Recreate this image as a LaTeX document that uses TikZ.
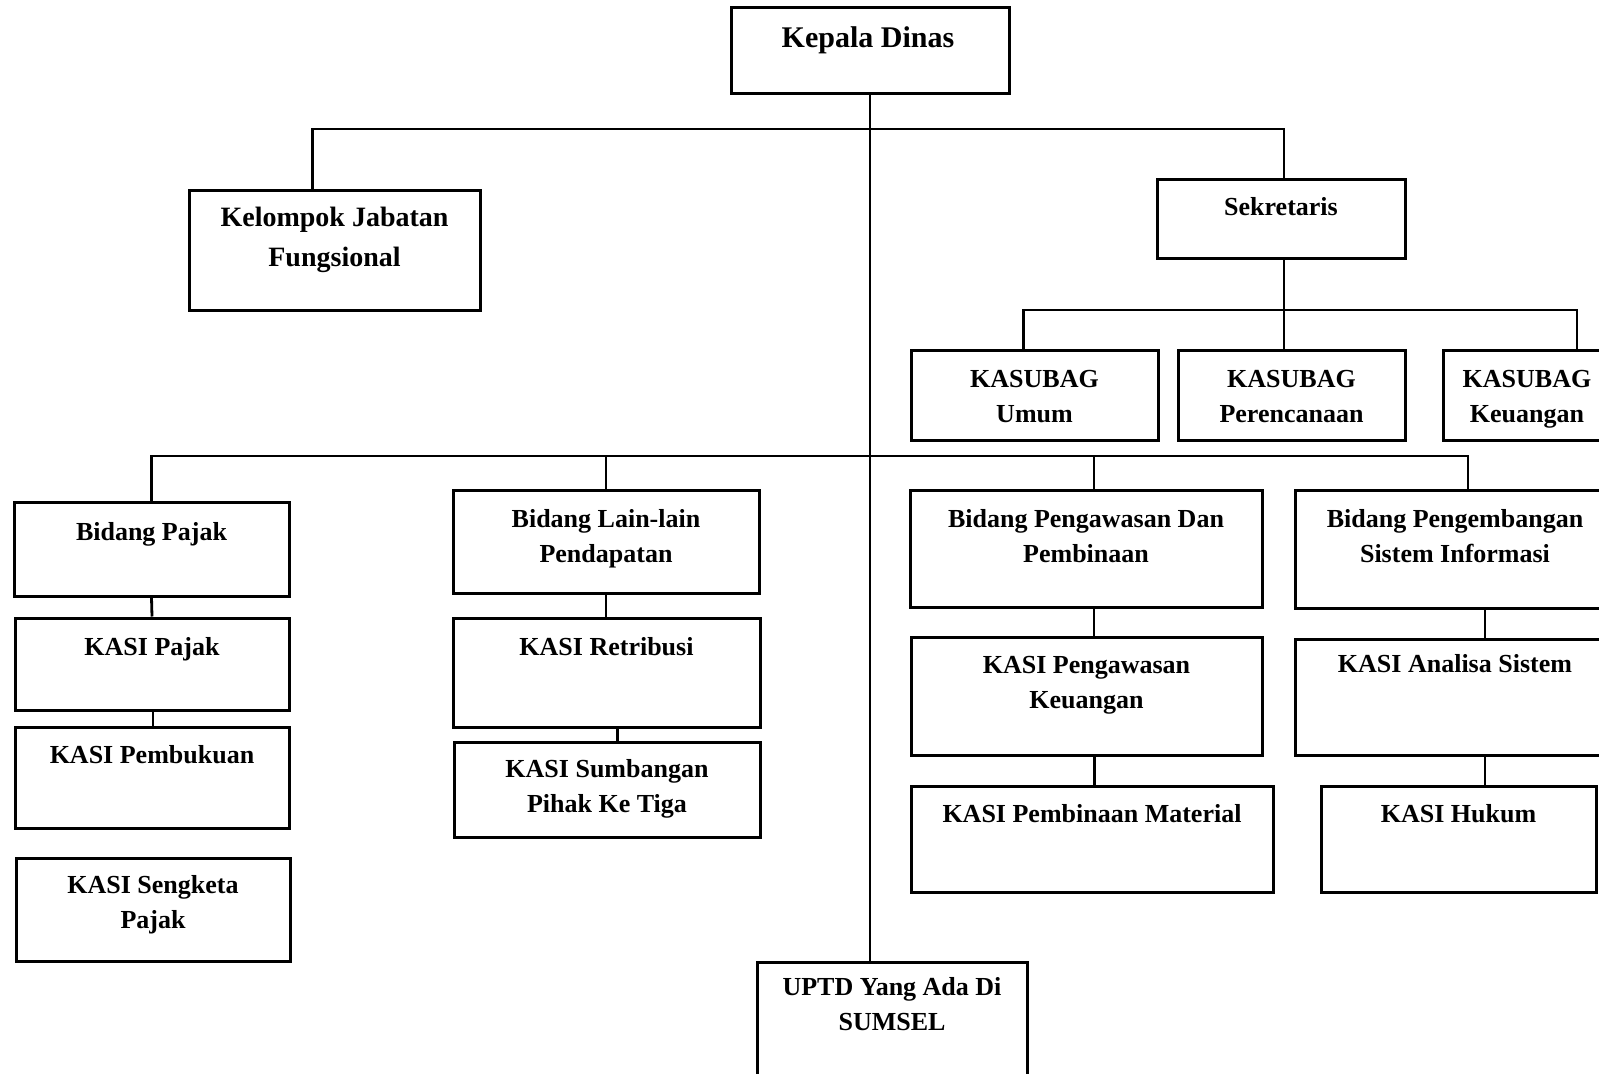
\documentclass[tikz,border=0pt]{standalone}
\usepackage{fontspec}
\setmainfont{Liberation Serif}
\usetikzlibrary{calc}
\begin{document}
\begin{tikzpicture}[x=1pt,y=-1pt,
  box/.style={draw, line width=3pt, inner sep=0pt, fill=none},
  conn/.style={line width=2.8pt},
  txt/.style={align=center, inner sep=0pt, anchor=base,
    font=\fontsize{26}{35}\selectfont\bfseries},
  kjfs/.style={align=center, inner sep=0pt, anchor=base,
    font=\fontsize{28}{40}\selectfont\bfseries},
  big/.style={align=center, inner sep=0pt, anchor=base,
    font=\fontsize{30}{36}\selectfont\bfseries}]
\useasboundingbox (0,0) rectangle (1599,1074);
\clip (0,0) rectangle (1599,1074);

% boxes
\node[box, minimum width=278pt, minimum height=86pt] (kd) at (870,50) {};
\node[box, minimum width=291pt, minimum height=120pt] (kjf) at (334.5,250) {};
\node[box, minimum width=248pt, minimum height=79pt] (sek) at (1281,218.5) {};
\node[box, minimum width=247pt, minimum height=90pt] (ksu) at (1034.5,395) {};
\node[box, minimum width=227pt, minimum height=90pt] (ksp) at (1291.5,395) {};
\node[box, minimum width=168pt, minimum height=90pt] (ksk) at (1527,395) {};
\node[box, minimum width=275pt, minimum height=94pt] (bp) at (151.5,549) {};
\node[box, minimum width=274pt, minimum height=92pt] (kp) at (152,664) {};
\node[box, minimum width=274pt, minimum height=101pt] (kpb) at (152,777.5) {};
\node[box, minimum width=274pt, minimum height=103pt] (kspj) at (153,909.5) {};
\node[box, minimum width=306pt, minimum height=103pt] (bll) at (606,541.5) {};
\node[box, minimum width=307pt, minimum height=109pt] (kr) at (606.5,672.5) {};
\node[box, minimum width=306pt, minimum height=95pt] (ks) at (607,789.5) {};
\node[box, minimum width=352pt, minimum height=117pt] (bpw) at (1086,548.5) {};
\node[box, minimum width=320pt, minimum height=118pt] (bps) at (1455,549) {};
\node[box, minimum width=351pt, minimum height=118pt] (kpk) at (1086.5,696) {};
\node[box, minimum width=320pt, minimum height=116pt] (kas) at (1455,697) {};
\node[box, minimum width=362pt, minimum height=106pt] (kpm) at (1092,839) {};
\node[box, minimum width=275pt, minimum height=106pt] (kh) at (1458.5,839) {};
\node[box, minimum width=270pt, minimum height=128pt] (uptd) at (892,1026) {};

% texts (coordinates are the baseline of the last line)
\node[big] (kdt) at (868,47) {Kepala Dinas};
\node[kjfs] (kjft) at (334.5,266) {Kelompok Jabatan\\Fungsional};
\node[txt] (sekt) at (1281,215) {Sekretaris};
\node[txt] (ksut) at (1034.5,422) {KASUBAG\\Umum};
\node[txt] (kspt) at (1291.5,422) {KASUBAG\\Perencanaan};
\node[txt] (kskt) at (1527,422) {KASUBAG\\Keuangan};
\node[txt] (bpt) at (151.5,540) {Bidang Pajak};
\node[txt] (kpt) at (152,655) {KASI Pajak};
\node[txt] (kpbt) at (152,763) {KASI Pembukuan};
\node[txt] (kspjt) at (153,928) {KASI Sengketa\\Pajak};
\node[txt] (bllt) at (606,562) {Bidang Lain-lain\\Pendapatan};
\node[txt] (krt) at (606.5,655) {KASI Retribusi};
\node[txt] (kst) at (607,812) {KASI Sumbangan\\Pihak Ke Tiga};
\node[txt] (bpwt) at (1086,562) {Bidang Pengawasan Dan\\Pembinaan};
\node[txt] (bpst) at (1455,562) {Bidang Pengembangan\\Sistem Informasi};
\node[txt] (kpkt) at (1086.5,708) {KASI Pengawasan\\Keuangan};
\node[txt] (kast) at (1455,672) {KASI Analisa Sistem};
\node[txt] (kpmt) at (1092,822) {KASI Pembinaan Material};
\node[txt] (kht) at (1458.5,822) {KASI Hukum};
\node[txt] (uptdt) at (892,1030) {UPTD Yang Ada Di\\SUMSEL};

% junctions on the trunk
\coordinate (j1) at (870,129);
\coordinate (j3) at (870,456);

% connectors
\draw[conn] (kd.south) -- (kd.south |- uptd.north);
\draw[conn] ([xshift=-22pt]kjf.north) |- (j1) -| ([xshift=3pt]sek.north);
\coordinate (j2) at ([xshift=3pt]sek.south |- 0,310);
\draw[conn] ([xshift=3pt]sek.south) -- ([xshift=3pt]sek.south |- ksp.north);
\draw[conn] ([xshift=-11pt]ksu.north) |- (j2) -| ([xshift=50pt]ksk.north);
\draw[conn] (bp.north) |- (j3) -| ([xshift=13pt]bps.north);
\draw[conn] (bll.north) -- (bll.north |- j3);
\draw[conn] ([xshift=8pt]bpw.north) -- ([xshift=8pt]bpw.north |- j3);
\draw[conn] (bp.south) -- (kp.north);
\draw[conn] ([xshift=1pt]kp.south) -- ([xshift=1pt]kp.south |- kpb.north);
\draw[conn] (bll.south) -- (bll.south |- kr.north);
\draw[conn] ([xshift=11pt]kr.south) -- ([xshift=11pt]kr.south |- ks.north);
\draw[conn] ([xshift=8pt]bpw.south) -- ([xshift=8pt]bpw.south |- kpk.north);
\draw[conn] ([xshift=8pt]kpk.south) -- ([xshift=8pt]kpk.south |- kpm.north);
\draw[conn] ([xshift=30pt]bps.south) -- ([xshift=30pt]bps.south |- kas.north);
\draw[conn] ([xshift=30pt]kas.south) -- ([xshift=30pt]kas.south |- kh.north);
\end{tikzpicture}
\end{document}
